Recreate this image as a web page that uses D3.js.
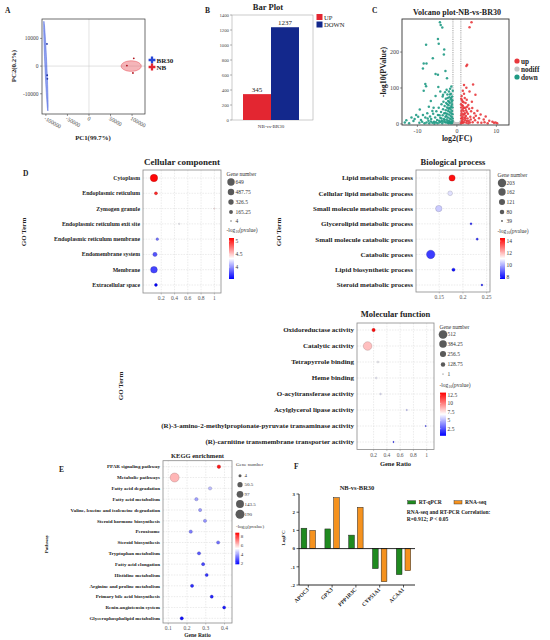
<!DOCTYPE html>
<html>
<head>
<meta charset="utf-8">
<script src="https://cdn.jsdelivr.net/npm/d3@7"></script>
<style>
body { margin: 0; background: #fff; }
svg { font-family: "Liberation Serif", "Times New Roman", serif; }
</style>
</head>
<body>
<svg id="fig" width="550" height="640"></svg>
<script>
// ---- data ----
var pcaGroups = ['BR30', 'NB'];
var pcaBR30 = [[-97500, 8000], [-97000, -3300], [-96500, -4600]];
var pcaNB = [[88000, 200], [104000, 2800], [102000, -2500]];
var pcaXTicks = [-100000, -50000, 0, 50000, 100000];
var pcaYTicks = [-10000, 0, 10000];
// confidence ellipses (centre + half axes, data units)
var pcaEllipses = [
    { group: 'BR30', cx: -100000, cy: 0, ax: -4650, ay: 16200, bx: 2300, by: 0 },
    { group: 'NB', cx: 98000, cy: 0, ax: 23300, ay: 0, bx: 0, by: 1900 }
];

var barGroups = ['UP', 'DOWN'];
var barValues = [345, 1237];
var barYTicks = [0, 200, 400, 600, 800, 1000, 1200, 1400];

var volcanoDown = [[-4.3,283],[-4.1,275],[-3.7,268],[-4.8,236],[-4.6,223],[-7.8,220],[-3.2,207],[-6.1,183],[-3.3,193],[-8.4,168],[-7.7,168],[-8.6,154],[-4.8,137],[-5.4,139],[-2.5,127],[-2.9,147],[-8.0,111],[-7.8,105],[-8.4,92],[-4.7,103],[-5.4,78],[-4.2,90],[-3.5,81],[-6.6,64],[-9.4,40],[-7.1,48],[-6.2,36],[-10.3,25],[-11.5,18],[-12.8,10],[-13.2,4],[-12.1,2],[-11.0,8],[-10.7,14],[-9.8,20],[-9.1,11],[-8.6,25],[-8.0,18],[-7.5,30],[-7.2,9],[-6.8,21],[-6.5,14],[-6.0,28],[-5.8,6],[-5.5,18],[-5.2,35],[-5.0,11],[-4.8,25],[-4.6,45],[-4.4,4],[-4.2,17],[-4.0,33],[-3.9,55],[-3.8,9],[-3.6,24],[-3.5,41],[-3.4,62],[-3.3,14],[-3.2,30],[-3.1,50],[-3.0,5],[-2.9,20],[-2.8,38],[-2.8,70],[-2.7,58],[-2.6,12],[-2.5,28],[-2.5,46],[-2.4,82],[-2.3,3],[-2.3,18],[-2.2,36],[-2.2,64],[-2.1,52],[-2.0,9],[-2.0,26],[-2.0,90],[-1.9,44],[-1.9,74],[-1.8,15],[-1.8,33],[-1.8,58],[-1.7,98],[-1.7,5],[-1.6,23],[-1.6,40],[-1.6,68],[-1.5,84],[-1.5,12],[-1.4,30],[-1.4,50],[-1.3,2],[-1.3,19],[-1.3,62],[-1.2,36],[-1.2,76],[-1.1,8],[-1.1,27],[-1.1,46],[-1.05,92],[-1.05,15],[-1.4,104],[-2.6,95],[-3.6,76],[-3.0,88],[-9.5,3],[-8.8,6],[-8.2,2],[-7.7,4],[-7.0,2],[-6.6,7],[-6.2,3],[-5.7,1],[-5.3,5],[-4.9,2],[-4.5,9],[-4.1,6],[-3.7,2],[-3.4,7],[-3.1,11],[-2.7,4],[-2.4,8],[-2.1,2],[-1.9,5],[-1.6,2],[-1.4,6],[-1.2,4],[-2.9,30],[-2.4,55],[-1.95,62],[-1.75,82],[-1.25,55],[-1.45,72],[-2.15,42],[-2.65,22],[-3.9,15],[-4.4,24],[-1.15,66],[-1.55,46],[-2.35,72],[-5.9,45],[-7.4,15]];
var volcanoUp = [[3.7,283],[3.2,269],[2.6,165],[2.4,161],[4.1,110],[1.8,108],[2.4,101],[3.2,90],[4.7,81],[2.5,67],[2.9,53],[3.9,44],[5.2,37],[6.0,26],[7.3,21],[9.0,6],[9.4,3],[9.8,4],[10.2,2],[8.2,9],[6.8,12],[5.6,16],[4.8,23],[4.4,30],[3.6,35],[3.4,20],[3.1,42],[3.0,8],[2.8,28],[2.7,15],[2.6,48],[2.4,3],[2.3,22],[2.3,38],[2.2,58],[2.1,10],[2.0,30],[2.0,72],[1.9,45],[1.9,18],[1.8,84],[1.8,5],[1.7,36],[1.7,60],[1.6,26],[1.6,12],[1.5,50],[1.5,92],[1.4,3],[1.4,20],[1.4,40],[1.3,66],[1.3,9],[1.2,30],[1.2,78],[1.1,15],[1.1,46],[1.05,2],[1.05,55],[1.1,24],[1.2,6],[4.0,5],[4.6,10],[5.3,4],[6.2,3],[7.0,5],[7.8,2],[3.5,12],[2.9,2],[2.5,33],[3.8,62],[4.3,17],[1.15,36],[1.35,52],[1.65,44],[1.25,16],[1.55,4],[1.85,26],[2.15,16],[2.55,8],[1.45,62],[1.1,70],[3.3,4],[2.2,45]];
var volcanoNodiff = [[-0.9,2],[-0.7,1],[-0.5,3],[-0.3,1],[-0.1,2],[0.1,1],[0.3,2],[0.5,1],[0.7,3],[0.9,1],[-0.8,5],[0.8,4],[-0.6,0.5],[0.4,0.5],[0,0.3],[-0.95,8],[0.95,7]];
var volcanoXTicks = [-10, 0, 10];
var volcanoYTicks = [0, 100, 200];
var volcanoClasses = ['up', 'nodiff', 'down'];

var ccTerms = ['Cytoplasm', 'Endoplasmic reticulum', 'Zymogen granule', 'Endoplasmic reticulum exit site',
    'Endoplasmic reticulum membrane', 'Endomembrane system', 'Membrane', 'Extracellular space'];
var ccRatio = [0.09, 0.12, 1.0, 0.47, 0.14, 0.105, 0.09, 0.12];
var ccCount = [649, 90, 4, 5, 60, 190, 520, 80];
var ccLogP = [5.1, 5.0, 4.4, 4.3, 3.9, 3.8, 3.75, 3.55];
var ccSizeTicks = [649, 487.75, 326.5, 165.25, 4];
var ccColorTicks = [5, 4.5, 4];

var bpTerms = ['Lipid metabolic process', 'Cellular lipid metabolic process', 'Small molecule metabolic process',
    'Glycerolipid metabolic process', 'Small molecule catabolic process', 'Catabolic process',
    'Lipid biosynthetic process', 'Steroid metabolic process'];
var bpRatio = [0.177, 0.173, 0.149, 0.217, 0.23, 0.132, 0.18, 0.24];
var bpCount = [125, 85, 130, 41, 42, 203, 55, 39];
var bpLogP = [14.3, 10.7, 10.4, 8.3, 8.4, 8.5, 7.9, 8.2];
var bpSizeTicks = [203, 162, 121, 80, 39];
var bpColorTicks = [14, 12, 10, 8];

var mfTerms = ['Oxidoreductase activity', 'Catalytic activity', 'Tetrapyrrole binding', 'Heme binding',
    'O-acyltransferase activity', 'Acylglycerol lipase activity',
    '(R)-3-amino-2-methylpropionate-pyruvate transaminase activity',
    '(R)-carnitine transmembrane transporter activity'];
var mfRatio = [0.2, 0.11, 0.265, 0.24, 0.305, 0.70, 0.985, 0.50];
var mfCount = [66, 512, 14, 13, 9, 4, 1, 2];
var mfLogP = [13.0, 8.4, 6.6, 6.4, 6.0, 5.2, 1.2, 1.4];
var mfSizeTicks = [512, 384.25, 256.5, 128.75, 1];
var mfColorTicks = [12.5, 10, 7.5, 5, 2.5];

var goXTicks = [0.2, 0.4, 0.6, 0.8, 1];
var bpXTicks = [0.15, 0.2, 0.25];

var keggTerms = ['PPAR signaling pathway', 'Metabolic pathways', 'Fatty acid degradation', 'Fatty acid metabolism',
    'Valine, leucine and isoleucine degradation', 'Steroid hormone biosynthesis', 'Peroxisome',
    'Steroid biosynthesis', 'Tryptophan metabolism', 'Fatty acid elongation', 'Histidine metabolism',
    'Arginine and proline metabolism', 'Primary bile acid biosynthesis', 'Renin-angiotensin system',
    'Glycerophospholipid metabolism'];
var keggRatio = [0.37, 0.134, 0.323, 0.25, 0.27, 0.296, 0.22, 0.366, 0.264, 0.286, 0.305, 0.227, 0.332, 0.398, 0.172];
var keggCount = [12, 190, 10, 9, 8, 8, 9, 7, 7, 6, 5, 7, 5, 4, 8];
var keggLogP = [8.4, 6.2, 4.3, 3.9, 3.8, 3.7, 3.4, 3.2, 2.9, 2.7, 2.4, 2.3, 2.2, 2.0, 1.9];
var keggXTicks = [0.1, 0.2, 0.3, 0.4];
var keggSizeTicks = [4, 50.5, 97, 143.5, 190];
var keggColorTicks = [8, 6, 4, 2];

var qGenes = ['APOC3', 'GPX3', 'PPP1R3C', 'CYP51A1', 'ACAA1'];
var qSeries = ['RT-qPCR', 'RNA-seq'];
var qPCR = [1.12, 1.08, 0.74, -1.10, -1.43];
var rnaSeq = [1.0, 2.8, 2.27, -1.82, -1.21];
var qYTicks = [-2, -1, 0, 1, 2, 3];

// ---- drawing ----
var svg = d3.select('#fig');
var BOLD = 'bold';

function txt(g, x, y, s, size, opts) {
    opts = opts || {};
    var t = g.append('text')
        .attr('x', x).attr('y', y)
        .attr('font-size', size)
        .attr('font-weight', opts.weight || 'normal')
        .attr('text-anchor', opts.anchor || 'start')
        .attr('fill', opts.fill || '#222')
        .text(s);
    if (opts.rotate !== undefined) t.attr('transform', 'rotate(' + opts.rotate + ',' + x + ',' + y + ')');
    return t;
}

function logLabel(g, x, y, size, weight) {
    var t = g.append('text').attr('x', x).attr('y', y).attr('font-size', size)
        .attr('font-weight', weight || 'normal').attr('fill', '#333');
    t.append('tspan').text('-log');
    t.append('tspan').attr('font-size', size * 0.7).attr('dy', size * 0.25).text('10');
    t.append('tspan').attr('dy', -size * 0.25).text('(pvalue)');
    return t;
}

// panel letters
[['A', 5, 13], ['B', 205, 13], ['C', 372, 13], ['D', 23, 176], ['E', 59, 472], ['F', 294, 469]].forEach(function (p) {
    txt(svg, p[1], p[2], p[0], 7.5, { weight: BOLD });
});

// ---------- A: PCA ----------
(function () {
    var g = svg.append('g');
    var x = d3.scaleLinear().domain([-109000, 130000]).range([42, 145]);
    var y = d3.scaleLinear().domain([-17300, 17000]).range([114, 19]);
    var col = { BR30: '#2646d8', NB: '#e32631' };

    g.append('line').attr('x1', x(0)).attr('x2', x(0)).attr('y1', 19).attr('y2', 114)
        .attr('stroke', '#cfcfcf').attr('stroke-width', 0.6);
    g.append('line').attr('x1', 42).attr('x2', 145).attr('y1', y(0)).attr('y2', y(0))
        .attr('stroke', '#cfcfcf').attr('stroke-width', 0.6);

    g.selectAll('path.ell').data(pcaEllipses).enter().append('path')
        .attr('d', function (e) {
            var pts = d3.range(0, 361, 6).map(function (a) {
                var t = a * Math.PI / 180;
                return [x(e.cx + e.ax * Math.cos(t) + e.bx * Math.sin(t)),
                    y(e.cy + e.ay * Math.cos(t) + e.by * Math.sin(t))];
            });
            return d3.line()(pts);
        })
        .attr('fill', function (e) { return e.group === 'BR30' ? 'rgba(60,90,225,0.55)' : 'rgba(232,90,100,0.45)'; })
        .attr('stroke', function (e) { return col[e.group]; })
        .attr('stroke-width', 0.4);

    g.selectAll('circle.b').data(pcaBR30).enter().append('circle')
        .attr('cx', function (d) { return x(d[0]); }).attr('cy', function (d) { return y(d[1]); })
        .attr('r', 0.9).attr('fill', '#1b2fa0');
    g.selectAll('circle.n').data(pcaNB).enter().append('circle')
        .attr('cx', function (d) { return x(d[0]); }).attr('cy', function (d) { return y(d[1]); })
        .attr('r', 0.9).attr('fill', '#b0101a');

    g.append('rect').attr('x', 42).attr('y', 19).attr('width', 103).attr('height', 95)
        .attr('fill', 'none').attr('stroke', '#333').attr('stroke-width', 0.7);

    pcaYTicks.forEach(function (v) {
        g.append('line').attr('x1', 40).attr('x2', 42).attr('y1', y(v)).attr('y2', y(v)).attr('stroke', '#333').attr('stroke-width', 0.5);
        txt(g, 38.5, y(v) + 2, v, 5.5, { anchor: 'end', fill: '#444' });
    });
    pcaXTicks.forEach(function (v) {
        g.append('line').attr('x1', x(v)).attr('x2', x(v)).attr('y1', 114).attr('y2', 116).attr('stroke', '#333').attr('stroke-width', 0.5);
        txt(g, x(v) - 2, 119.5, v, 5.5, { rotate: 30, fill: '#444' });
    });
    txt(g, 16, 66, 'PC2(0.2%)', 6.8, { weight: BOLD, anchor: 'middle', rotate: -90 });
    txt(g, 93, 140, 'PC1(99.7%)', 6.8, { weight: BOLD, anchor: 'middle' });

    pcaGroups.forEach(function (k, i) {
        g.append('path').attr('d', d3.symbol(d3.symbolCross).size(26))
            .attr('transform', 'translate(152,' + (60 + i * 7) + ')').attr('fill', col[k]);
        txt(g, 156.5, 62.5 + i * 7, k, 7, { weight: BOLD });
    });
})();

// ---------- B: bar plot ----------
(function () {
    var g = svg.append('g');
    var x = d3.scaleBand().domain(barGroups).range([243, 299]);
    var y = d3.scaleLinear().domain([0, 1400]).range([120, 15]);
    var col = { UP: '#e32631', DOWN: '#13288c' };

    g.append('rect').attr('x', 232).attr('y', 15).attr('width', 81).attr('height', 105)
        .attr('fill', 'none').attr('stroke', '#999').attr('stroke-width', 0.5);
    g.selectAll('rect.bar').data(barGroups).enter().append('rect')
        .attr('x', function (d) { return x(d); })
        .attr('y', function (d, i) { return y(barValues[i]); })
        .attr('width', x.bandwidth())
        .attr('height', function (d, i) { return 120 - y(barValues[i]); })
        .attr('fill', function (d) { return col[d]; });
    barGroups.forEach(function (k, i) {
        txt(g, x(k) + x.bandwidth() / 2, y(barValues[i]) - 2, barValues[i], 7, { anchor: 'middle' });
    });
    barYTicks.forEach(function (v) {
        g.append('line').attr('x1', 230).attr('x2', 232).attr('y1', y(v)).attr('y2', y(v)).attr('stroke', '#444').attr('stroke-width', 0.4);
        txt(g, 229, y(v) + 1.7, v, 4.8, { anchor: 'end', fill: '#444' });
    });
    txt(g, 271, 128, 'NB-vs-BR30', 5, { anchor: 'middle', fill: '#333' });
    txt(g, 268, 10, 'Bar Plot', 8.5, { weight: BOLD, anchor: 'middle' });
    barGroups.forEach(function (k, i) {
        g.append('rect').attr('x', 316.5).attr('y', 14 + i * 7.5).attr('width', 6).attr('height', 6).attr('fill', col[k]);
        txt(g, 324, 19.6 + i * 7.5, k, 6.6, { fill: '#222' });
    });
})();

// ---------- C: volcano ----------
(function () {
    var g = svg.append('g');
    var x = d3.scaleLinear().domain([-13.9, 13.2]).range([402, 509]);
    var y = d3.scaleLinear().domain([-3, 292]).range([125, 19]);
    var col = { up: '#e8383d', nodiff: '#c4c4c4', down: '#1f9a84' };

    g.selectAll('circle.nd').data(volcanoNodiff).enter().append('circle')
        .attr('cx', function (d) { return x(d[0]); }).attr('cy', function (d) { return y(d[1]); })
        .attr('r', 1.2).attr('fill', col.nodiff);
    [-1, 1].forEach(function (v) {
        g.append('line').attr('x1', x(v)).attr('x2', x(v)).attr('y1', 19).attr('y2', 125)
            .attr('stroke', '#bdbdbd').attr('stroke-width', 1.4).attr('stroke-dasharray', '1.2,1');
    });
    g.selectAll('circle.dn').data(volcanoDown).enter().append('circle')
        .attr('cx', function (d) { return x(d[0]); }).attr('cy', function (d) { return y(d[1]); })
        .attr('r', 1.25).attr('fill', col.down).attr('fill-opacity', 0.9);
    g.selectAll('circle.up').data(volcanoUp).enter().append('circle')
        .attr('cx', function (d) { return x(d[0]); }).attr('cy', function (d) { return y(d[1]); })
        .attr('r', 1.25).attr('fill', col.up).attr('fill-opacity', 0.9);

    g.append('rect').attr('x', 402).attr('y', 19).attr('width', 107).attr('height', 106)
        .attr('fill', 'none').attr('stroke', '#333').attr('stroke-width', 0.9);
    volcanoYTicks.forEach(function (v) {
        g.append('line').attr('x1', 400).attr('x2', 402).attr('y1', y(v)).attr('y2', y(v)).attr('stroke', '#333').attr('stroke-width', 0.5);
        txt(g, 399, y(v) + 2, v, 6, { anchor: 'end', fill: '#444' });
    });
    volcanoXTicks.forEach(function (v) {
        g.append('line').attr('x1', x(v)).attr('x2', x(v)).attr('y1', 125).attr('y2', 127).attr('stroke', '#333').attr('stroke-width', 0.5);
        txt(g, x(v), 132.5, v, 6, { anchor: 'middle', fill: '#444' });
    });
    txt(g, 457, 15, 'Volcano plot-NB-vs-BR30', 8, { weight: BOLD, anchor: 'middle' });
    txt(g, 457, 140.5, 'log2(FC)', 8, { weight: BOLD, anchor: 'middle' });
    txt(g, 386, 72, '-log10(PValue)', 8, { weight: BOLD, anchor: 'middle', rotate: -90 });

    volcanoClasses.forEach(function (k, i) {
        g.append('circle').attr('cx', 517).attr('cy', 61 + i * 8).attr('r', 2.6).attr('fill', col[k]);
        txt(g, 521, 63.7 + i * 8, k, 7.2, { weight: BOLD });
    });
})();

// ---------- dot plots (GO / KEGG) ----------
var gradId = 0;
function dotPlot(o) {
    var g = svg.append('g');
    var x = d3.scaleLinear().domain(o.xDomain).range([o.left, o.right]);
    var y = d3.scalePoint().domain(o.terms).range([o.rowTop, o.rowBottom]);
    var c0 = o.cDomain[0], c1 = o.cDomain[1];
    var color = d3.scaleLinear().domain([c0, (c0 + c1) / 2, c1]).range(['#0000ff', '#ffffff', '#ff0000']).clamp(true);
    var area = d3.scaleLinear().domain(o.sDomain).range([o.rRange[0] * o.rRange[0], o.rRange[1] * o.rRange[1]]);
    var r = function (v) { return Math.sqrt(Math.max(area(v), 0.15)); };

    g.append('rect').attr('x', o.left).attr('y', o.top).attr('width', o.right - o.left).attr('height', o.bottom - o.top)
        .attr('fill', '#fff');
    g.selectAll('line.vg').data(o.xTicks).enter().append('line')
        .attr('x1', function (d) { return x(d); }).attr('x2', function (d) { return x(d); })
        .attr('y1', o.top).attr('y2', o.bottom)
        .attr('stroke', '#d6d6d6').attr('stroke-width', 0.5).attr('stroke-dasharray', '1.5,1.2');
    g.selectAll('line.hg').data(o.terms).enter().append('line')
        .attr('x1', o.left).attr('x2', o.right)
        .attr('y1', function (d) { return y(d); }).attr('y2', function (d) { return y(d); })
        .attr('stroke', '#d6d6d6').attr('stroke-width', 0.5).attr('stroke-dasharray', '1.5,1.2');
    g.append('rect').attr('x', o.left).attr('y', o.top).attr('width', o.right - o.left).attr('height', o.bottom - o.top)
        .attr('fill', 'none').attr('stroke', '#8a8a8a').attr('stroke-width', 0.8);

    g.selectAll('circle.pt').data(o.terms).enter().append('circle')
        .attr('cx', function (d, i) { return x(o.ratio[i]); })
        .attr('cy', function (d) { return y(d); })
        .attr('r', function (d, i) { return r(o.count[i]); })
        .attr('fill', function (d, i) { return color(o.logp[i]); })
        .attr('stroke', function (d, i) { return d3.color(color(o.logp[i])).darker(1.2); })
        .attr('stroke-width', 0.35);

    o.terms.forEach(function (t) {
        txt(g, o.left - 3, y(t) + o.termSize * 0.34, t, o.termSize, { weight: BOLD, anchor: 'end' });
    });
    o.xTicks.forEach(function (v) {
        g.append('line').attr('x1', x(v)).attr('x2', x(v)).attr('y1', o.bottom).attr('y2', o.bottom + 1.5)
            .attr('stroke', '#777').attr('stroke-width', 0.4);
        txt(g, x(v), o.bottom + 7, v, o.tickSize, { anchor: 'middle', fill: '#555' });
    });
    txt(g, (o.left + o.right) / 2, o.titleY, o.title, o.titleSize, { weight: BOLD, anchor: 'middle' });
    if (o.yTitle) txt(g, o.yTitle[0], o.yTitle[1], o.yTitle[2], o.yTitle[3], { weight: BOLD, anchor: 'middle', rotate: -90 });
    if (o.xTitle) txt(g, (o.left + o.right) / 2, o.xTitle[0], 'Gene Ratio', o.xTitle[1], { weight: BOLD, anchor: 'middle' });

    // legend: size
    var L = o.legend, fs = L.size;
    txt(g, L.x, L.y, 'Gene number', fs, { fill: '#333' });
    o.sizeTicks.forEach(function (v, i) {
        g.append('circle').attr('cx', L.cx).attr('cy', L.sy[i]).attr('r', r(v)).attr('fill', '#5a5a5a');
        txt(g, L.cx + 4.5, L.sy[i] + fs * 0.35, v, fs, { fill: '#333' });
    });
    // legend: colour
    logLabel(g, L.x, L.ly, fs);
    var id = 'grad' + (gradId++);
    var grad = svg.append('defs').append('linearGradient').attr('id', id)
        .attr('x1', 0).attr('x2', 0).attr('y1', 1).attr('y2', 0);
    [0, 0.5, 1].forEach(function (f) {
        grad.append('stop').attr('offset', f).attr('stop-color', color(c0 + (c1 - c0) * f));
    });
    var cb = d3.scaleLinear().domain(o.cDomain).range([L.cb[3], L.cb[2]]);
    g.append('rect').attr('x', L.cb[0]).attr('y', L.cb[2]).attr('width', L.cb[1]).attr('height', L.cb[3] - L.cb[2])
        .attr('fill', 'url(#' + id + ')');
    o.colorTicks.forEach(function (v) {
        g.append('line').attr('x1', L.cb[0]).attr('x2', L.cb[0] + 1.2).attr('y1', cb(v)).attr('y2', cb(v)).attr('stroke', '#fff').attr('stroke-width', 0.4);
        txt(g, L.cb[0] + L.cb[1] + 1.5, cb(v) + fs * 0.35, v, fs, { fill: '#333' });
    });
}

dotPlot({
    terms: ccTerms, ratio: ccRatio, count: ccCount, logp: ccLogP,
    left: 143, right: 221, top: 170, bottom: 293, rowTop: 178, rowBottom: 285,
    xDomain: [-0.075, 1.1], xTicks: goXTicks, cDomain: [3.54, 5.12], sDomain: [4, 649], rRange: [0.7, 3.7],
    termSize: 5.8, tickSize: 5.5, title: 'Cellular component', titleY: 165, titleSize: 9,
    yTitle: [26, 232, 'GO Term', 7],
    sizeTicks: ccSizeTicks, colorTicks: ccColorTicks,
    legend: { x: 226.5, y: 176, cx: 231, sy: [182, 192, 202, 212, 221], ly: 232, cb: [229, 5, 238, 279], size: 5.5 }
});

dotPlot({
    terms: bpTerms, ratio: bpRatio, count: bpCount, logp: bpLogP,
    left: 416, right: 490, top: 170, bottom: 292, rowTop: 178, rowBottom: 285,
    xDomain: [0.101, 0.257], xTicks: bpXTicks, cDomain: [7.7, 14.5], sDomain: [39, 203], rRange: [0.9, 4.2],
    termSize: 7, tickSize: 5.5, title: 'Biological process', titleY: 165, titleSize: 8.5,
    yTitle: [281, 232, 'GO Term', 7],
    sizeTicks: bpSizeTicks, colorTicks: bpColorTicks,
    legend: { x: 497.5, y: 177, cx: 502, sy: [183, 192, 202, 212, 221], ly: 233, cb: [500, 5, 238, 279], size: 5.5 }
});

dotPlot({
    terms: mfTerms, ratio: mfRatio, count: mfCount, logp: mfLogP,
    left: 357, right: 434, top: 323, bottom: 449.5, rowTop: 330, rowBottom: 442,
    xDomain: [-0.05, 1.11], xTicks: goXTicks, cDomain: [0.4, 13.2], sDomain: [1, 512], rRange: [0.6, 4.3],
    termSize: 7, tickSize: 5.5, title: 'Molecular function', titleY: 317, titleSize: 8.5,
    yTitle: [123, 386, 'GO Term', 7], xTitle: [466, 6.5],
    sizeTicks: mfSizeTicks, colorTicks: mfColorTicks,
    legend: { x: 439.5, y: 329, cx: 443, sy: [334.5, 344, 354, 364.5, 374], ly: 386.5, cb: [440, 6, 392.6, 435.8], size: 5.5 }
});

dotPlot({
    terms: keggTerms, ratio: keggRatio, count: keggCount, logp: keggLogP,
    left: 163, right: 232, top: 460.7, bottom: 623, rowTop: 466.7, rowBottom: 618.3,
    xDomain: [0.072, 0.44], xTicks: keggXTicks, cDomain: [1.7, 8.7], sDomain: [4, 190], rRange: [1.5, 4.5],
    termSize: 5, tickSize: 5.5, title: 'KEGG enrichment', titleY: 458, titleSize: 6.5,
    yTitle: [48, 544, 'Pathway', 5], xTitle: [637, 5.5],
    sizeTicks: keggSizeTicks, colorTicks: keggColorTicks,
    legend: { x: 236, y: 466, cx: 240, sy: [475.7, 484.7, 494.3, 504, 514.3], ly: 528, cb: [235.3, 4, 532.7, 564.3], size: 5 }
});

// ---------- F: validation bars ----------
(function () {
    var g = svg.append('g');
    var x0 = d3.scaleBand().domain(qGenes).range([296.4, 415.4]);
    var x1 = d3.scaleBand().domain(qSeries).range([4.7, 19.1]).paddingInner(0.345);
    var y = d3.scaleLinear().domain([-2, 3]).range([585, 494]);
    var col = { 'RT-qPCR': '#1f8a1f', 'RNA-seq': '#f5921e' };
    var vals = { 'RT-qPCR': qPCR, 'RNA-seq': rnaSeq };

    qSeries.forEach(function (s) {
        g.selectAll('rect.s' + s).data(qGenes).enter().append('rect')
            .attr('x', function (d) { return x0(d) + x1(s); })
            .attr('y', function (d, i) { return y(Math.max(vals[s][i], 0)); })
            .attr('width', x1.bandwidth())
            .attr('height', function (d, i) { return Math.abs(y(vals[s][i]) - y(0)); })
            .attr('fill', col[s]).attr('stroke', '#222').attr('stroke-width', 0.5);
    });
    g.append('line').attr('x1', 299).attr('x2', 415).attr('y1', y(0)).attr('y2', y(0)).attr('stroke', '#111').attr('stroke-width', 0.9);
    g.append('line').attr('x1', 299).attr('x2', 415).attr('y1', y(-2)).attr('y2', y(-2)).attr('stroke', '#111').attr('stroke-width', 0.9);
    g.append('line').attr('x1', 299).attr('x2', 299).attr('y1', y(3)).attr('y2', y(-2)).attr('stroke', '#111').attr('stroke-width', 0.9);
    qYTicks.forEach(function (v) {
        g.append('line').attr('x1', 296.5).attr('x2', 299).attr('y1', y(v)).attr('y2', y(v)).attr('stroke', '#111').attr('stroke-width', 0.7);
        txt(g, 295, y(v) + 1.8, v, 5, { anchor: 'end', weight: BOLD });
    });
    qGenes.forEach(function (k) {
        var cx = x0(k) + x0.bandwidth() / 2;
        g.append('line').attr('x1', cx).attr('x2', cx).attr('y1', y(-2)).attr('y2', y(-2) + 2.5).attr('stroke', '#111').attr('stroke-width', 0.7);
        txt(g, cx + 1, 590, k, 5.5, { anchor: 'end', weight: BOLD, rotate: -45 });
    });
    txt(g, 285, 538, 'LogFC', 5, { anchor: 'middle', rotate: -90, weight: BOLD });
    txt(g, 357, 489.5, 'NB-vs-BR30', 6.5, { anchor: 'middle', weight: BOLD });

    qSeries.forEach(function (s, i) {
        var lx = i === 0 ? 407.7 : 454;
        g.append('rect').attr('x', lx).attr('y', 500.7).attr('width', 8).attr('height', 3.3)
            .attr('fill', col[s]).attr('stroke', '#222').attr('stroke-width', 0.4);
        txt(g, lx + 11, 504.3, s, 5.5, { weight: BOLD });
    });
    txt(g, 406.7, 513.5, 'RNA-seq and RT-PCR Correlation:', 5.5, { weight: BOLD });
    var t = txt(g, 406.7, 520.5, 'R=0.912; ', 5.5, { weight: BOLD });
    t.append('tspan').attr('font-style', 'italic').text('P');
    t.append('tspan').text(' < 0.05');
})();
</script>
</body>
</html>
